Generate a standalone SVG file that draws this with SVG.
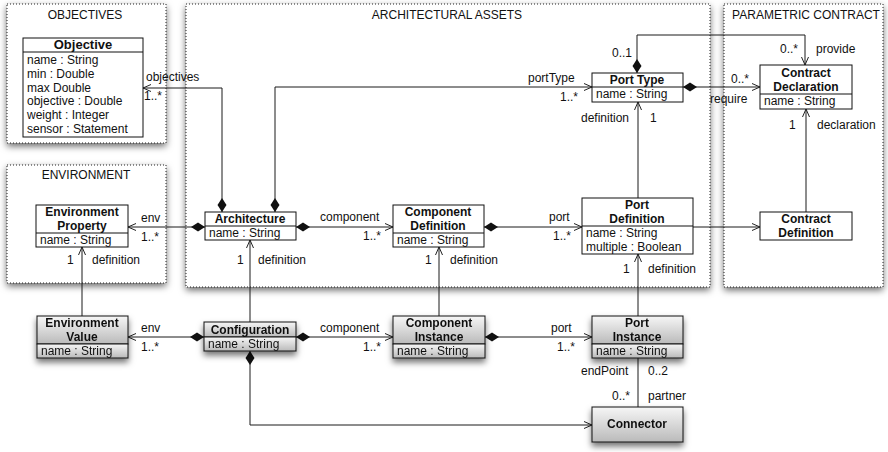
<svg xmlns="http://www.w3.org/2000/svg" width="888" height="452" viewBox="0 0 888 452">
<style>
text{font-family:"Liberation Sans",Arial,sans-serif;font-size:12px;fill:#111}
.b{font-weight:bold;text-anchor:middle}
.m{text-anchor:middle}
.pkg{fill:#fff;stroke:#222;stroke-width:1;stroke-dasharray:1 2;filter:url(#psh)}
.cls{fill:#fff;stroke:#111;stroke-width:1}
.inst{fill:url(#gr);stroke:#111;stroke-width:1}
.div{stroke:#111;stroke-width:1}
.c{fill:none;stroke:#1a1a1a;stroke-width:1}
.d{marker-start:url(#dia)}
.a{marker-end:url(#arr)}
</style>
<defs>
<linearGradient id="gr" x1="0" y1="0" x2="0" y2="1">
<stop offset="0" stop-color="#f6f6f6"/>
<stop offset="1" stop-color="#bababa"/>
</linearGradient>
<filter id="psh" x="-10%" y="-10%" width="120%" height="125%">
<feDropShadow dx="0" dy="3" stdDeviation="3.5" flood-color="#000" flood-opacity="0.6"/>
</filter>
<filter id="ish" x="-20%" y="-20%" width="140%" height="160%">
<feDropShadow dx="0" dy="4" stdDeviation="3" flood-color="#000" flood-opacity="0.55"/>
</filter>
<marker id="dia" markerUnits="userSpaceOnUse" viewBox="-1 -6 16 12" refX="0" refY="0" markerWidth="16" markerHeight="12" orient="auto">
<path d="M0,0 L7,-4.5 L14,0 L7,4.5 Z" fill="#111"/>
</marker>
<marker id="arr" markerUnits="userSpaceOnUse" viewBox="-10 -6 12 12" refX="0" refY="0" markerWidth="12" markerHeight="12" orient="auto">
<path d="M-8,-3.5 L0,0 L-8,3.5" fill="none" stroke="#222" stroke-width="1"/>
</marker>
</defs>
<rect width="888" height="452" fill="#fff"/>

<g id="packages">
<g id="pkg-objectives"><rect class="pkg" x="7" y="4" width="159" height="139"/><text class="m" x="85" y="19">OBJECTIVES</text></g>
<g id="pkg-environment"><rect class="pkg" x="7" y="165" width="159" height="118"/><text class="m" x="86" y="179">ENVIRONMENT</text></g>
<g id="pkg-assets"><rect class="pkg" x="186" y="4" width="524" height="283"/><text class="m" x="447" y="19">ARCHITECTURAL ASSETS</text></g>
<g id="pkg-contract"><rect class="pkg" x="724" y="4" width="159" height="283"/><text class="m" x="806" y="19">PARAMETRIC CONTRACT</text></g>
</g>

<g id="connectors">
<path class="c d a" d="M222,212 V88 H143"/>
<text x="146" y="81">objectives</text><text x="144" y="100">1..*</text>
<path class="c d a" d="M275,212 V87 H592"/>
<text x="528" y="82">portType</text><text x="560" y="101">1..*</text>
<path class="c d a" d="M205,227 H128"/>
<text x="141" y="222">env</text><text x="141" y="241">1..*</text>
<path class="c d a" d="M296,227 H393"/>
<text x="320" y="221">component</text><text x="363" y="240">1..*</text>
<path class="c d a" d="M484,227 H582"/>
<text x="549" y="221">port</text><text x="553" y="240">1..*</text>
<path class="c a" d="M693,227 H760"/>
<path class="c a" d="M638,198 V102"/>
<text x="581" y="122">definition</text><text x="650" y="122">1</text>
<path class="c d a" d="M637,73 V35 H805 V65"/>
<text x="612" y="57">0..1</text><text x="780" y="53">0..*</text><text x="816" y="53">provide</text>
<path class="c d a" d="M683,87 H760"/>
<text x="731" y="83">0..*</text><text x="710" y="103">require</text>
<path class="c a" d="M806,212 V109"/>
<text x="789" y="129">1</text><text x="817" y="129">declaration</text>
<path class="c a" d="M82,316 V247"/>
<text x="67" y="264">1</text><text x="92" y="264">definition</text>
<path class="c a" d="M250,322 V240"/>
<text x="237" y="264">1</text><text x="258" y="264">definition</text>
<path class="c a" d="M439,316 V247"/>
<text x="425" y="264">1</text><text x="450" y="264">definition</text>
<path class="c a" d="M638,316 V254"/>
<text x="623" y="273">1</text><text x="648" y="273">definition</text>
<path class="c d a" d="M204,337 H128"/>
<text x="141" y="332">env</text><text x="141" y="351">1..*</text>
<path class="c d a" d="M296,337 H393"/>
<text x="320" y="332">component</text><text x="363" y="351">1..*</text>
<path class="c d a" d="M485,337 H592"/>
<text x="551" y="332">port</text><text x="557" y="351">1..*</text>
<path class="c d a" d="M250,351 V425 H592"/>
<path class="c" d="M638,358 V407"/>
<text x="581" y="375">endPoint</text><text x="648" y="375">0..2</text>
<text x="612" y="400">0..*</text><text x="648" y="400">partner</text>
</g>

<g id="objective">
<rect class="cls" x="23" y="38" width="120" height="99"/>
<line class="div" x1="23" y1="52" x2="143" y2="52"/>
<text class="b" x="83" y="49" style="font-size:13px">Objective</text>
<text x="27" y="64">name : String</text>
<text x="27" y="78">min : Double</text>
<text x="27" y="92">max Double</text>
<text x="27" y="105">objective : Double</text>
<text x="27" y="119">weight : Integer</text>
<text x="27" y="133">sensor : Statement</text>
</g>

<g id="environment-property">
<rect class="cls" x="36" y="205" width="92" height="42"/>
<line class="div" x1="36" y1="233" x2="128" y2="233"/>
<text class="b" x="82" y="216">Environment</text>
<text class="b" x="82" y="230">Property</text>
<text x="40" y="244">name : String</text>
</g>

<g id="architecture">
<rect class="cls" x="205" y="212" width="91" height="28"/>
<line class="div" x1="205" y1="226" x2="296" y2="226"/>
<text class="b" x="250" y="223">Architecture</text>
<text x="209" y="237">name : String</text>
</g>

<g id="component-definition">
<rect class="cls" x="393" y="205" width="91" height="42"/>
<line class="div" x1="393" y1="233" x2="484" y2="233"/>
<text class="b" x="438" y="216">Component</text>
<text class="b" x="438" y="230">Definition</text>
<text x="397" y="244">name : String</text>
</g>

<g id="port-definition">
<rect class="cls" x="582" y="198" width="111" height="56"/>
<line class="div" x1="582" y1="226" x2="693" y2="226"/>
<text class="b" x="637" y="209">Port</text>
<text class="b" x="637" y="223">Definition</text>
<text x="586" y="237">name : String</text>
<text x="586" y="251">multiple : Boolean</text>
</g>

<g id="port-type">
<rect class="cls" x="592" y="73" width="91" height="29"/>
<line class="div" x1="592" y1="87" x2="683" y2="87"/>
<text class="b" x="637" y="84">Port Type</text>
<text x="596" y="98">name : String</text>
</g>

<g id="contract-declaration">
<rect class="cls" x="760" y="65" width="92" height="44"/>
<line class="div" x1="760" y1="94" x2="852" y2="94"/>
<text class="b" x="806" y="77">Contract</text>
<text class="b" x="806" y="91">Declaration</text>
<text x="764" y="105">name : String</text>
</g>

<g id="contract-definition">
<rect class="cls" x="760" y="212" width="92" height="28"/>
<text class="b" x="806" y="223">Contract</text>
<text class="b" x="806" y="237">Definition</text>
</g>

<g id="environment-value" filter="url(#ish)">
<rect class="inst" x="37" y="316" width="91" height="28"/>
<rect class="inst" x="37" y="344" width="91" height="14"/>
<text class="b" x="82" y="327">Environment</text>
<text class="b" x="82" y="341">Value</text>
<text x="41" y="355">name : String</text>
</g>

<g id="configuration" filter="url(#ish)">
<rect class="inst" x="204" y="322" width="92" height="15"/>
<rect class="inst" x="204" y="337" width="92" height="14"/>
<text class="b" x="250" y="334">Configuration</text>
<text x="208" y="348">name : String</text>
</g>

<g id="component-instance" filter="url(#ish)">
<rect class="inst" x="393" y="316" width="92" height="28"/>
<rect class="inst" x="393" y="344" width="92" height="14"/>
<text class="b" x="439" y="327">Component</text>
<text class="b" x="439" y="341">Instance</text>
<text x="397" y="355">name : String</text>
</g>

<g id="port-instance" filter="url(#ish)">
<rect class="inst" x="592" y="316" width="91" height="28"/>
<rect class="inst" x="592" y="344" width="91" height="14"/>
<text class="b" x="637" y="327">Port</text>
<text class="b" x="637" y="341">Instance</text>
<text x="596" y="355">name : String</text>
</g>

<g id="connector" filter="url(#ish)">
<rect class="inst" x="592" y="407" width="91" height="35"/>
<text class="b" x="637" y="428">Connector</text>
</g>
</svg>
